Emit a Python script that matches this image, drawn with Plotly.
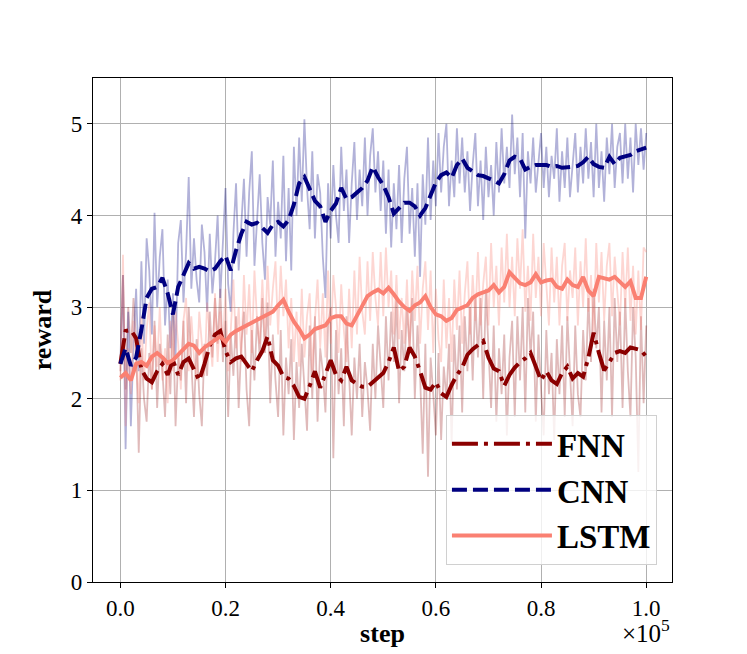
import plotly.graph_objects as go

# ---------------- data ----------------
STEP_RAW_INTERVAL = 500      # raw logging interval (steps)
STEP_SMOOTH_INTERVAL = 1000  # smoothed curve interval (steps)

fnn_raw = [2.30, 3.35, 2.10, 3.00, 2.50, 3.10, 2.60, 1.41, 2.55, 2.00,
           1.75, 2.50, 2.10, 2.85, 1.90, 2.60, 2.30, 1.80, 2.70, 2.05,
           2.95, 1.70, 2.45, 2.20, 2.85, 1.95, 3.00, 2.35, 1.80, 2.65,
           2.05, 1.70, 2.60, 2.25, 2.95, 2.45, 3.10, 2.60, 3.20, 2.40,
           2.85, 1.80, 2.70, 2.25, 2.90, 1.90, 2.60, 2.95, 2.10, 1.70,
           2.75, 2.20, 2.90, 2.45, 3.10, 2.50, 3.05, 1.95, 2.70, 2.20,
           1.80, 2.75, 1.60, 2.45, 2.05, 2.65, 1.55, 2.40, 1.90, 2.60,
           2.15, 1.65, 2.80, 2.00, 2.90, 1.75, 2.55, 2.30, 1.85, 2.80,
           3.00, 1.35, 2.75, 2.05, 2.55, 1.70, 2.90, 2.20, 1.60, 2.45,
           2.00, 2.60, 1.80, 2.40, 2.10, 1.65, 2.60, 2.00, 2.80, 2.35,
           1.90, 2.90, 2.20, 2.95, 2.40, 3.10, 1.95, 2.75, 2.30, 3.00,
           2.55, 3.10, 2.00, 2.80, 2.25, 1.40, 2.60, 1.15, 2.45, 2.05,
           1.60, 2.50, 1.55, 2.35, 2.00, 2.60, 1.50, 2.70, 2.10, 2.80,
           1.85, 2.90, 2.30, 3.00, 2.20, 3.10, 2.45, 3.10, 2.00, 3.20,
           2.60, 1.90, 2.80, 1.75, 2.55, 2.05, 2.70, 1.60, 2.45, 2.85,
           1.80, 2.90, 2.20, 3.00, 1.85, 3.10, 2.45, 2.95, 1.75, 2.70,
           2.10, 1.60, 2.75, 2.05, 2.50, 1.55, 2.65, 2.05, 2.80, 1.80,
           2.90, 2.25, 1.70, 2.80, 2.05, 1.80, 2.75, 2.20, 3.10, 2.40,
           3.20, 2.55, 3.00, 1.85, 2.85, 2.20, 3.00, 1.80, 3.10, 2.40,
           2.95, 1.90, 3.10, 2.30, 1.80, 3.00, 2.45, 1.20, 2.90, 1.95,
           2.80]

cnn_raw = [2.40, 3.35, 1.45, 2.95, 1.70, 2.60, 3.20, 2.30, 3.50, 2.60,
           3.75, 3.40, 2.70, 4.03, 3.00, 3.55, 3.85, 2.80, 3.30, 2.55,
           3.15, 2.45, 3.70, 3.95, 3.05, 3.60, 4.42, 3.20, 3.75, 3.30,
           3.05, 3.90, 3.60, 2.95, 3.80, 3.15, 3.50, 4.00, 3.10, 3.65,
           4.30, 3.25, 2.95, 3.80, 4.35, 3.40, 3.95, 4.40, 3.55, 4.25,
           4.70, 3.45, 3.95, 4.45, 3.70, 3.30, 4.20, 3.90, 4.60, 3.55,
           4.15, 3.75, 4.65, 3.50, 4.30, 3.40, 4.75, 4.00, 4.85, 4.15,
           5.05, 4.30, 3.85, 4.70, 3.75, 4.45, 4.25, 3.55, 3.10, 4.35,
           3.75, 4.55, 4.00, 3.70, 4.75, 4.05, 4.50, 3.70, 4.35, 4.80,
           3.95, 4.50, 4.10, 4.85, 4.00, 4.65, 4.95, 4.25, 4.70, 4.05,
           4.60, 3.80, 4.50, 3.65, 4.35, 3.85, 4.55, 3.70, 4.40, 4.75,
           3.80, 4.30, 3.55, 4.35, 3.33, 4.45, 3.90, 4.85, 3.95, 4.60,
           4.10, 4.90, 4.25, 4.75, 5.00, 4.10, 4.60, 4.20, 4.95, 4.35,
           4.85, 4.25, 4.70, 4.05, 4.55, 4.90, 4.10, 4.60, 3.95, 4.75,
           4.20, 4.55, 4.00, 4.80, 4.25, 4.95, 4.35, 4.75, 4.30, 5.10,
           4.45, 4.85, 4.20, 4.90, 3.75, 4.70, 4.35, 4.85, 4.25, 4.60,
           4.90, 4.30, 4.75, 4.20, 4.65, 4.40, 4.95, 4.15, 4.70, 4.30,
           4.85, 4.20, 4.60, 4.90, 4.25, 4.75, 4.35, 4.95, 4.40, 4.80,
           4.20, 5.00, 4.30, 4.70, 4.15, 4.85, 4.45, 5.00, 4.30, 4.75,
           4.90, 4.35, 5.00, 4.40, 4.85, 4.25, 5.00, 4.55, 4.95, 4.50,
           4.90]

lstm_raw = [2.20, 3.57, 1.70, 2.55, 2.05, 2.85, 2.40, 1.95, 2.90, 2.20,
            2.75, 3.05, 2.10, 2.80, 2.35, 3.00, 2.20, 2.55, 1.95, 2.85,
            2.30, 2.95, 2.60, 2.10, 2.85, 3.10, 2.30, 2.90, 2.45, 2.20,
            2.95, 2.55, 2.25, 3.05, 2.70, 2.35, 3.15, 2.40, 2.95, 2.55,
            3.20, 2.30, 2.75, 3.30, 2.55, 3.00, 2.40, 3.35, 2.70, 3.25,
            2.50, 3.40, 2.85, 2.60, 3.30, 2.65, 3.45, 2.80, 3.20, 3.50,
            2.70, 3.45, 2.90, 3.30, 2.55, 3.10, 2.40, 2.95, 2.35, 3.20,
            2.45, 2.90, 3.15, 2.30, 2.85, 3.30, 2.55, 3.15, 2.45, 3.40,
            2.60, 3.35, 3.00, 2.50, 3.25, 2.75, 2.40, 3.20, 2.55, 3.40,
            2.70, 3.55, 2.95, 2.70, 3.50, 2.85, 3.60, 3.10, 2.80, 3.60,
            2.90, 3.65, 3.00, 3.40, 2.70, 3.35, 2.65, 3.10, 2.60, 3.30,
            2.50, 3.40, 2.85, 3.45, 2.60, 3.20, 3.50, 2.75, 3.40, 2.50,
            3.20, 2.65, 2.40, 3.30, 2.55, 3.10, 2.40, 3.30, 2.75, 3.40,
            2.60, 3.15, 3.50, 2.70, 3.35, 2.85, 3.60, 2.80, 3.25, 3.55,
            2.80, 3.70, 3.00, 3.45, 2.80, 3.65, 3.05, 3.80, 3.00, 3.55,
            2.90, 3.75, 3.20, 3.85, 2.95, 3.45, 2.85, 3.80, 3.10, 3.55,
            2.90, 3.70, 3.25, 2.80, 3.65, 3.05, 3.55, 2.80, 3.45, 3.70,
            2.85, 3.40, 3.10, 3.65, 2.80, 3.50, 3.00, 3.75, 2.95, 3.35,
            2.70, 3.70, 3.05, 3.60, 2.85, 3.45, 3.70, 2.90, 3.55, 3.15,
            2.80, 3.60, 3.00, 3.65, 2.85, 3.45, 2.70, 3.40, 2.75, 3.65,
            3.60]

fnn_smooth = [2.38, 2.74, 2.75, 2.66, 2.32, 2.22, 2.18, 2.30, 2.38, 2.26,
              2.42, 2.26, 2.40, 2.44, 2.32, 2.20, 2.38, 2.58, 2.70, 2.74,
              2.52, 2.40, 2.44, 2.46, 2.38, 2.30, 2.42, 2.52, 2.68, 2.42,
              2.36, 2.24, 2.22, 2.14, 2.02, 2.00, 2.14, 2.30, 2.12, 2.26,
              2.42, 2.26, 2.20, 2.35, 2.20, 2.16, 2.13, 2.13, 2.18, 2.24,
              2.28, 2.40, 2.56, 2.30, 2.35, 2.56, 2.46, 2.30, 2.12, 2.10,
              2.18, 2.06, 2.02, 2.15, 2.26, 2.34, 2.48, 2.54, 2.58, 2.63,
              2.45, 2.33, 2.30, 2.14, 2.26, 2.34, 2.40, 2.44, 2.50, 2.35,
              2.20, 2.30, 2.20, 2.16, 2.28, 2.35, 2.22, 2.28, 2.24, 2.45,
              2.72, 2.50, 2.31, 2.40, 2.50, 2.52, 2.50, 2.56, 2.54, 2.53,
              2.46]

cnn_smooth = [2.38, 2.55, 2.36, 2.45, 2.75, 3.10, 3.20, 3.22, 3.32, 3.15,
              2.92, 3.22, 3.35, 3.48, 3.42, 3.44, 3.42, 3.39, 3.42, 3.50,
              3.56, 3.40, 3.62, 3.80, 3.93, 3.90, 3.92, 3.86, 3.81, 3.90,
              3.93, 3.88, 3.95, 4.12, 4.35, 4.42, 4.30, 4.16, 4.10, 3.93,
              4.05, 4.13, 4.30, 4.18, 4.20, 4.25, 4.30, 4.38, 4.53, 4.42,
              4.33, 4.20, 4.02, 4.08, 4.14, 4.14, 4.10, 4.00, 4.08, 4.22,
              4.36, 4.44, 4.47, 4.41, 4.55, 4.62, 4.52, 4.48, 4.44, 4.43,
              4.41, 4.38, 4.35, 4.45, 4.60, 4.64, 4.62, 4.50, 4.53, 4.55,
              4.55, 4.55, 4.53, 4.54, 4.52, 4.52, 4.53, 4.54, 4.58, 4.64,
              4.56, 4.53, 4.52, 4.64, 4.56, 4.63, 4.65, 4.66, 4.70, 4.72,
              4.74]

lstm_smooth = [2.23, 2.28, 2.20, 2.38, 2.40, 2.36, 2.46, 2.50, 2.45, 2.39,
               2.42, 2.48, 2.55, 2.60, 2.58, 2.50, 2.56, 2.60, 2.64, 2.68,
               2.62, 2.70, 2.74, 2.77, 2.80, 2.83, 2.86, 2.88, 2.91, 2.95,
               3.02, 3.08, 2.95, 2.84, 2.76, 2.66, 2.70, 2.76, 2.78, 2.80,
               2.88, 2.90, 2.90, 2.82, 2.80, 2.90, 3.02, 3.12, 3.16, 3.19,
               3.15, 3.21, 3.14, 3.06, 3.00, 2.96, 3.02, 3.05, 3.12, 3.00,
               2.92, 2.90, 2.85, 2.88, 2.97, 2.99, 3.02, 3.10, 3.14, 3.16,
               3.18, 3.24, 3.16, 3.22, 3.38, 3.32, 3.26, 3.24, 3.27, 3.36,
               3.27, 3.29, 3.30, 3.22, 3.20, 3.30, 3.24, 3.22, 3.33, 3.18,
               3.12, 3.33, 3.31, 3.30, 3.33, 3.28, 3.22, 3.28, 3.10, 3.10,
               3.33]

names = ["FNN", "CNN", "LSTM"]
colors = ["#8B0000", "#000080", "#FA8072"]
raw_colors = ["rgba(139,0,0,0.27)", "rgba(0,0,128,0.3)", "rgba(250,128,114,0.32)"]
dashes = ["26px,6px,4px,6px", "15px,6px", "solid"]

x_tickvals = [0, 20000, 40000, 60000, 80000, 100000]
x_ticktext = ["0.0", "0.2", "0.4", "0.6", "0.8", "1.0"]
y_tickvals = [0, 1, 2, 3, 4, 5]
y_ticktext = ["0", "1", "2", "3", "4", "5"]

steps_raw = [i * STEP_RAW_INTERVAL for i in range(len(fnn_raw))]
steps_smooth = [i * STEP_SMOOTH_INTERVAL for i in range(len(fnn_smooth))]

FONT = "Liberation Serif"

fig = go.Figure()
for raw, rc in zip([fnn_raw, cnn_raw, lstm_raw], raw_colors):
    fig.add_trace(go.Scatter(x=steps_raw, y=raw, mode="lines",
                             line=dict(color=rc, width=1.8),
                             showlegend=False, hoverinfo="skip"))
for sm, nm, c, d in zip([fnn_smooth, cnn_smooth, lstm_smooth], names, colors, dashes):
    fig.add_trace(go.Scatter(x=steps_smooth, y=sm, mode="lines", name="<b>" + nm + "</b>",
                             line=dict(color=c, width=4, dash=d)))

axis_common = dict(showline=True, linecolor="black", linewidth=1.2, mirror=True,
                   ticks="outside", ticklen=5, tickwidth=1, tickcolor="black",
                   showgrid=True, gridcolor="#b0b0b0", gridwidth=1, zeroline=False,
                   tickfont=dict(family=FONT, size=23, color="black"))

fig.update_xaxes(range=[-5200, 104900], tickvals=x_tickvals, ticktext=x_ticktext,
                 title=dict(text="<b>step</b>", font=dict(family=FONT, size=26, color="black"),
                            standoff=4),
                 **axis_common)
fig.update_yaxes(range=[0, 5.5], tickvals=y_tickvals, ticktext=y_ticktext,
                 title=dict(text="<b>reward</b>", font=dict(family=FONT, size=26, color="black"),
                            standoff=11),
                 **axis_common)

fig.add_annotation(text="×10<sup>5</sup>", xref="paper", yref="paper",
                   x=1.0, y=-0.062, xanchor="right", yanchor="top", showarrow=False,
                   font=dict(family=FONT, size=25, color="black"))

fig.update_layout(
    width=747, height=654,
    margin=dict(l=85, r=83, t=70, b=80),
    paper_bgcolor="white", plot_bgcolor="white",
    showlegend=True,
    legend=dict(x=0.974, y=0.034, xanchor="right", yanchor="bottom",
                bgcolor="rgba(255,255,255,0.8)", bordercolor="#d0d0d0", borderwidth=1,
                font=dict(family=FONT, size=33, color="black"),
                itemwidth=100, traceorder="normal"),
)

fig.write_html("out.html")
